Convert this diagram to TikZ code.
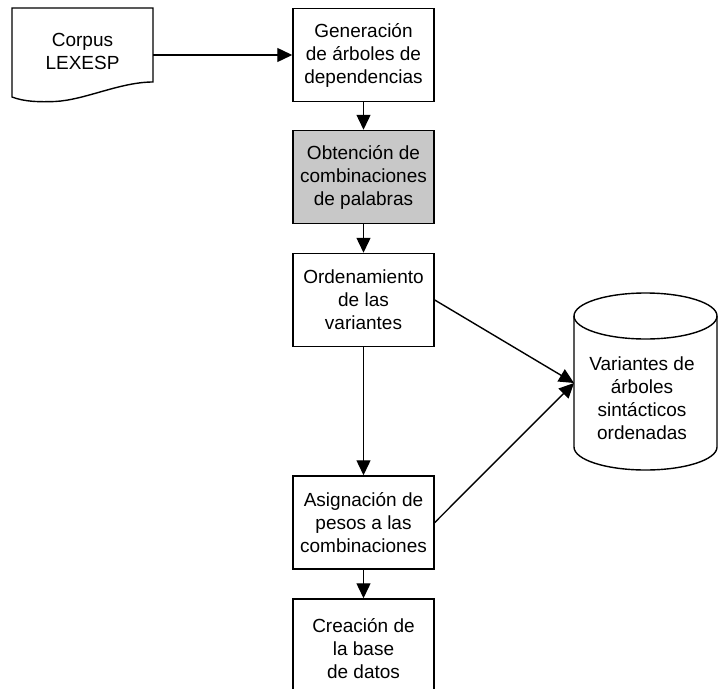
\documentclass[tikz,border=0pt]{standalone}
\usepackage{fontspec}
\setmainfont{Liberation Sans}
\usetikzlibrary{arrows.meta}
\definecolor{boxgray}{RGB}{200,200,200}
\begin{document}
\begin{tikzpicture}[x=1pt,y=-1pt,
  every node/.style={font=\fontsize{19}{23}\selectfont, align=center, inner sep=0pt},
  procbox/.style={draw, line width=1.5pt, minimum width=141pt, minimum height=93pt},
  conn/.style={line width=1.4pt, -{Triangle[length=15pt,width=14pt]}}]
\useasboundingbox (0,0) rectangle (719,688);
% document shape
\draw[line width=1.4pt] (12,8) -- (153,8) -- (153,82)
  .. controls (120,82) and (85,100) .. (55,101.5)
  .. controls (40,102) and (25,102) .. (12,97) -- cycle;
\node (corpus) at (82.5,51) {Corpus\\LEXESP};
\coordinate (corpusR) at (153,55);
% process boxes
\node[procbox] (gen) at (363.5,55) {Generación\\de árboles de\\dependencias};
\node[procbox, fill=boxgray] (obt) at (363.5,177) {Obtención de\\combinaciones\\de palabras};
\node[procbox] (ord) at (363.5,300) {Ordenamiento\\de las\\variantes};
\node[procbox] (asig) at (363.5,522.5) {Asignación de\\pesos a las\\combinaciones};
\node[procbox, minimum height=100pt] (crea) at (363.5,649) {Creación de\\la base\\de datos};
% cylinder
\draw[line width=1.4pt] (574,316) -- (574,447) arc[start angle=180, end angle=0, x radius=71.5, y radius=23] -- (717,316);
\draw[line width=1.4pt] (645.5,316) ellipse[x radius=71.5, y radius=23];
\node (db) at (642,398) {Variantes de\\árboles\\sintácticos\\ordenadas};
\coordinate (dbin) at (574,383);
% connectors
\draw[conn] (corpusR) -- (gen.west);
\draw[conn] (gen.south) -- (obt.north);
\draw[conn] (obt.south) -- (ord.north);
\draw[conn] (ord.south) -- (asig.north);
\draw[conn] (asig.south) -- (crea.north);
\draw[conn] (ord.east) -- (dbin);
\draw[conn] (asig.east) -- (dbin);
\end{tikzpicture}
\end{document}
